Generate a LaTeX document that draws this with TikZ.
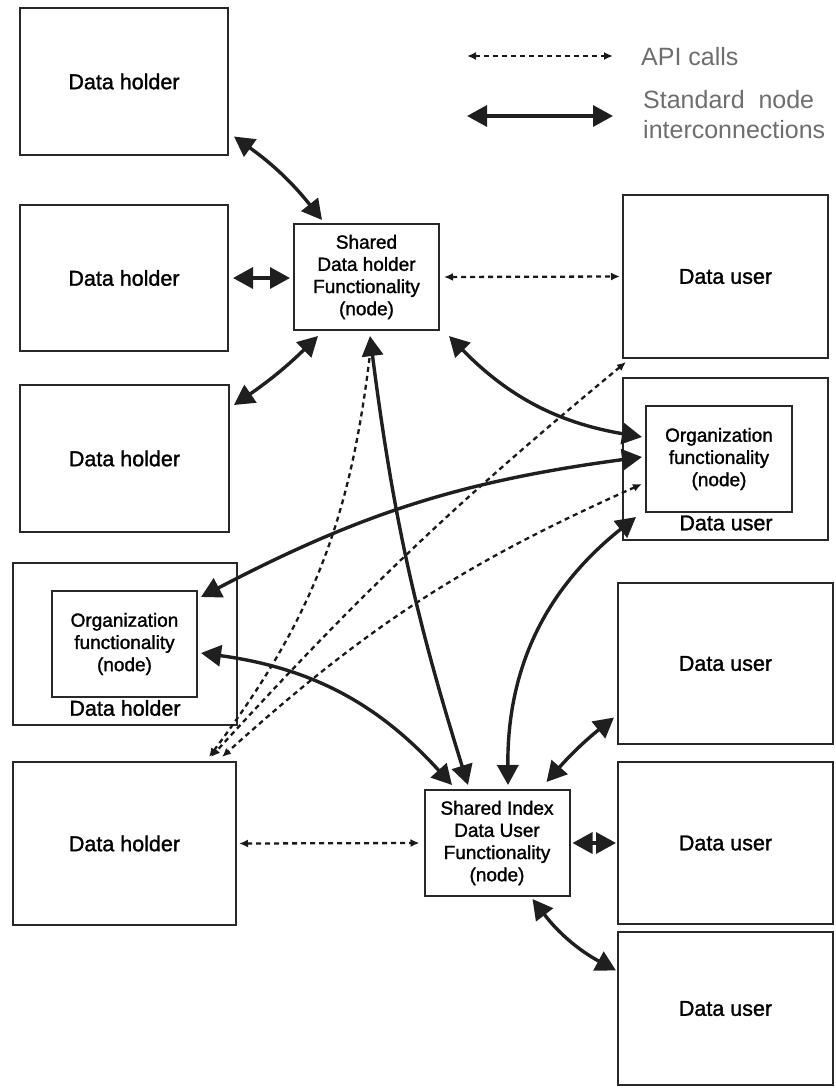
\documentclass[tikz,border=0pt]{standalone}
\usepackage{fontspec}
\setmainfont{Liberation Sans}[FakeBold=1.4]
\newfontfamily\medfont{Liberation Sans}[FakeBold=1.4]
\newfontfamily\legfont{Liberation Sans}
\usetikzlibrary{arrows.meta,calc}
\definecolor{legendgray}{RGB}{110,110,110}
\definecolor{boxline}{RGB}{40,40,40}
\begin{document}
\begin{tikzpicture}[x=1pt,y=-1pt,
  box/.style={draw=boxline, line width=2pt, fill=white, inner sep=0pt, align=center},
  bigbox/.style={box, font=\medfont\fontsize{21.5}{26}\selectfont},
  fnode/.style={box, font=\medfont\fontsize{19}{22.2}\selectfont, minimum width=145pt, minimum height=106pt},
  std/.style={line width=3.4pt, draw=black!88, {Triangle[length=20pt,width=21pt]}-{Triangle[length=20pt,width=21pt]}},
  api/.style={line width=2.3pt, draw=black!90, dash pattern=on 5pt off 4pt, {Latex[length=9pt,width=8pt]}-{Latex[length=9pt,width=8pt]}},
  apione/.style={line width=2.3pt, draw=black!90, dash pattern=on 5pt off 4pt, -{Latex[length=9pt,width=8pt]}},
  lbl/.style={font=\medfont\fontsize{21.5}{26}\selectfont, inner sep=0pt},
  legtext/.style={font=\legfont\fontsize{25}{30}\selectfont, text=legendgray, anchor=base west, inner sep=0pt}
]
\path[use as bounding box] (0,0) rectangle (836,1088);

% ---------- boxes ----------
\node[bigbox, minimum width=208pt, minimum height=147pt] (dh1) at (124,81.5) {Data holder};
\node[bigbox, minimum width=208pt, minimum height=146pt] (dh2) at (124,278) {Data holder};
\node[bigbox, minimum width=209pt, minimum height=147pt] (dh3) at (124.5,458.5) {Data holder};
\node[box, minimum width=224pt, minimum height=162pt] (dh4) at (125,644) {};
\node[fnode] (org1) at (124.5,644) {Organization\\functionality\\(node)};
\node[lbl] (dh4l) at (125,708) {Data holder};
\node[bigbox, minimum width=223pt, minimum height=163pt] (dh5) at (124.5,843.5) {Data holder};

\node[fnode] (sdh) at (366.5,277) {Shared\\Data holder\\Functionality\\(node)};
\node[fnode] (si) at (497,843) {Shared Index\\Data User\\Functionality\\(node)};

\node[bigbox, minimum width=205pt, minimum height=163pt] (du1) at (725.5,276.5) {Data user};
\node[box, minimum width=205pt, minimum height=162pt] (du2) at (725.5,459) {};
\node[fnode, minimum width=146pt] (org2) at (719,459) {Organization\\functionality\\(node)};
\node[lbl] (du2l) at (726,523) {Data user};
\node[bigbox, minimum width=215pt, minimum height=161pt] (du3) at (725.5,663.5) {Data user};
\node[bigbox, minimum width=215pt, minimum height=162pt] (du4) at (725.5,843) {Data user};
\node[bigbox, minimum width=215pt, minimum height=153pt] (du5) at (725.5,1008.5) {Data user};

% ---------- legend ----------
\coordinate (la1) at (467,56);
\coordinate (la2) at (613,56);
\draw[api] (la1) -- (la2);
\node[legtext] (lapi) at (641,65) {API calls};
\coordinate (lb1) at (467,116);
\coordinate (lb2) at (613,116);
\draw[std] (lb1) -- (lb2);
\node[legtext] (lstd1) at (643,108) {Standard\ \ node};
\node[legtext] (lstd2) at (643,138) {interconnections};

% ---------- API calls (dotted) ----------
\draw[api] ($(sdh.east)+(4,0)$) -- ($(du1.west)+(-2,0)$);
\draw[api] ($(dh5.east)+(2,0)$) -- ($(si.west)+(-4,0)$);
\draw[apione] ($(sdh.south)+(3,27)$) to[bend left=15] ($(dh5.north east)+(-28,-4)$);
\draw[api] ($(du1.south west)+(4,3)$) to[bend right=4] ($(dh5.north east)+(-26,-4)$);
\draw[api] ($(org2.west)+(-3,25)$) to[bend right=9] ($(dh5.north east)+(-15,-4)$);

% ---------- standard node interconnections ----------
\draw[std] ($(dh1.east)+(5,55)$) to[bend left=8] ($(sdh.north west)+(29,-3)$);
\draw[std] ($(dh2.east)+(4,0)$) -- ($(sdh.west)+(-3,1)$);
\draw[std] ($(sdh.south west)+(25,5)$) to[bend left=5] ($(dh3.north east)+(4,21)$);
\draw[std] ($(sdh.south)+(3.5,5)$) to[bend right=5] ($(si.north)+(-29,-4)$);
\draw[std] ($(sdh.south east)+(9,5)$) to[bend right=18] ($(org2.west)+(-3,-22)$);
\draw[std] ($(org2.west)+(-3,-2)$) to[bend right=10] ($(org1.north east)+(3,7)$);
\draw[std] ($(org1.east)+(3,9)$) to[bend left=20] ($(si.north)+(-45,-4)$);
\draw[std] ($(du2.west)+(14,58)$) to[bend right=26] ($(si.north)+(11,-4)$);
\draw[std] ($(du3.west)+(-3,54)$) to[bend right=5] ($(si.north east)+(-24,-7)$);
\draw[std] ($(si.east)+(2,0)$) -- ($(du4.west)+(-1,0)$);
\draw[std] ($(si.south east)+(-38,2)$) to[bend right=12] ($(du5.west)+(-1,-38)$);
\end{tikzpicture}
\end{document}
